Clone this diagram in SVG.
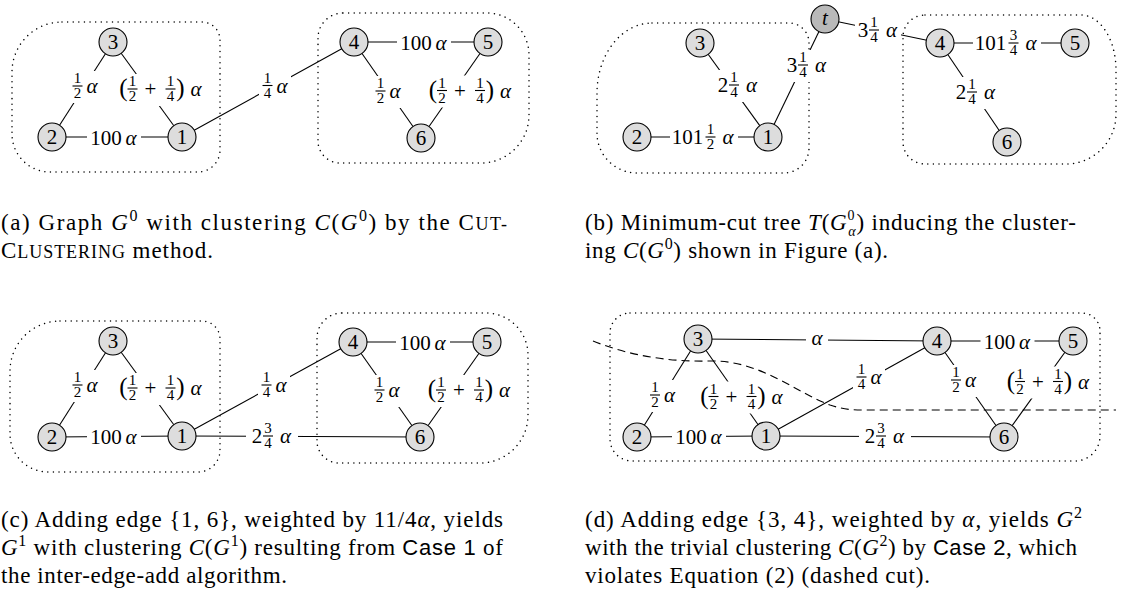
<svg xmlns="http://www.w3.org/2000/svg" width="1126" height="592" viewBox="0 0 1126 592">
<style>
text{font-family:"Liberation Serif","Times New Roman",serif;fill:#000}
.cl{fill:none;stroke:#000;stroke-width:1.5;stroke-dasharray:0.01 5.6;stroke-linecap:round}
.e line{stroke:#000;stroke-width:1.1;fill:none}
.cut{fill:none;stroke:#000;stroke-width:1.1;stroke-dasharray:8 5}
.n circle{fill:#dddddd;stroke:#000;stroke-width:1.1}
.n.t circle{fill:#b9b9b9}
.n text{font-size:21px;text-anchor:middle}
.bg{fill:#fff}
.m{font-size:21px;text-anchor:middle}
.a{font-style:italic}
.f{font-size:15px;text-anchor:middle}
.fb{stroke:#000;stroke-width:0.9}
.p{font-size:25px;text-anchor:middle}
.cap{font-size:23px}
.i{font-style:italic}
.sup{font-size:16px}
.ssub{font-size:14px}
.sc{font-size:18px}
.ss{font-family:"Liberation Sans",Arial,sans-serif;font-size:22px}
</style>

<!-- ===== Panel (a) ===== -->
<g id="panel-a">
  <g id="a-clusters">
    <path class="cl" d="M62,22 H202 A18,18 0 0 1 220,40 V150 A22,22 0 0 1 198,172 H50 A38,38 0 0 1 12,134 V72 A50,50 0 0 1 62,22 Z"/>
    <path class="cl" d="M343,13 H487 A42,42 0 0 1 529,55 V115 A48,48 0 0 1 481,163 H340 A22,22 0 0 1 318,141 V38 A25,25 0 0 1 343,13 Z"/>
  </g>
  <g id="a-connectors" class="e">
    <line x1="113" y1="42" x2="52" y2="137"/>
    <line x1="113" y1="42" x2="182" y2="137"/>
    <line x1="52" y1="137" x2="182" y2="137"/>
    <line x1="182" y1="137" x2="354" y2="42"/>
    <line x1="354" y1="42" x2="488" y2="42"/>
    <line x1="354" y1="42" x2="421" y2="138"/>
    <line x1="488" y1="42" x2="421" y2="138"/>
    <g transform="translate(85,86)"><rect class="bg" x="-16" y="-15" width="32" height="32"/><text class="f" x="-7.5" y="-3">1</text><line class="fb" x1="-12.5" y1="0" x2="-2.5" y2="0"/><text class="f" x="-7.5" y="12">2</text><text class="m a" x="7" y="7">α</text></g>
    <g transform="translate(162,89)"><rect class="bg" x="-44" y="-15" width="88" height="32"/><text class="p" x="-38.5" y="7">(</text><text class="f" x="-29.5" y="-3">1</text><line class="fb" x1="-34.5" y1="0" x2="-24.5" y2="0"/><text class="f" x="-29.5" y="12">2</text><text class="m" x="-11.5" y="7">+</text><text class="f" x="8.5" y="-3">1</text><line class="fb" x1="3.5" y1="0" x2="13.5" y2="0"/><text class="f" x="8.5" y="12">4</text><text class="p" x="18.5" y="7">)</text><text class="m a" x="34" y="7">α</text></g>
    <g transform="translate(114,137)"><rect class="bg" x="-27" y="-12" width="54" height="24"/><text class="m" x="-8" y="7.5">100</text><text class="m a" x="17" y="7.5">α</text></g>
    <g transform="translate(275,85.5)"><rect class="bg" x="-16" y="-15" width="32" height="32"/><text class="f" x="-7.5" y="-3">1</text><line class="fb" x1="-12.5" y1="0" x2="-2.5" y2="0"/><text class="f" x="-7.5" y="12">4</text><text class="m a" x="7" y="7">α</text></g>
    <g transform="translate(424,42)"><rect class="bg" x="-27" y="-12" width="54" height="24"/><text class="m" x="-8" y="7.5">100</text><text class="m a" x="17" y="7.5">α</text></g>
    <g transform="translate(388,91)"><rect class="bg" x="-16" y="-15" width="32" height="32"/><text class="f" x="-7.5" y="-3">1</text><line class="fb" x1="-12.5" y1="0" x2="-2.5" y2="0"/><text class="f" x="-7.5" y="12">2</text><text class="m a" x="7" y="7">α</text></g>
    <g transform="translate(471.5,90.5)"><rect class="bg" x="-44" y="-15" width="88" height="32"/><text class="p" x="-38.5" y="7">(</text><text class="f" x="-29.5" y="-3">1</text><line class="fb" x1="-34.5" y1="0" x2="-24.5" y2="0"/><text class="f" x="-29.5" y="12">2</text><text class="m" x="-11.5" y="7">+</text><text class="f" x="8.5" y="-3">1</text><line class="fb" x1="3.5" y1="0" x2="13.5" y2="0"/><text class="f" x="8.5" y="12">4</text><text class="p" x="18.5" y="7">)</text><text class="m a" x="34" y="7">α</text></g>
  </g>
  <g id="a-n1" class="n"><circle cx="182" cy="137" r="14"/><text x="182" y="144">1</text></g>
  <g id="a-n2" class="n"><circle cx="52" cy="137" r="14"/><text x="52" y="144">2</text></g>
  <g id="a-n3" class="n"><circle cx="113" cy="42" r="14"/><text x="113" y="49">3</text></g>
  <g id="a-n4" class="n"><circle cx="354" cy="42" r="14"/><text x="354" y="49">4</text></g>
  <g id="a-n5" class="n"><circle cx="488" cy="42" r="14"/><text x="488" y="49">5</text></g>
  <g id="a-n6" class="n"><circle cx="421" cy="138" r="14"/><text x="421" y="145">6</text></g>
</g>

<!-- ===== Panel (b) ===== -->
<g id="panel-b">
  <g id="b-clusters">
    <path class="cl" d="M652,23 H789 A20,20 0 0 1 809,43 V148 A25,25 0 0 1 784,173 H637 A40,40 0 0 1 597,133 V93 A55,70 0 0 1 652,23 Z"/>
    <path class="cl" d="M925,15 H1081 A35,55 0 0 1 1116,70 V114 A50,50 0 0 1 1066,164 H925 A22,22 0 0 1 903,142 V37 A22,22 0 0 1 925,15 Z"/>
  </g>
  <g id="b-connectors" class="e">
    <line x1="825" y1="19" x2="768" y2="137"/>
    <line x1="825" y1="19" x2="940" y2="43"/>
    <line x1="700" y1="43" x2="768" y2="137"/>
    <line x1="637" y1="137" x2="768" y2="137"/>
    <line x1="940" y1="43" x2="1075" y2="43"/>
    <line x1="940" y1="43" x2="1007" y2="142"/>
    <g transform="translate(738,85)"><rect class="bg" x="-23" y="-15" width="46" height="32"/><text class="m" x="-15" y="7">2</text><text class="f" x="-4" y="-3">1</text><line class="fb" x1="-9" y1="0" x2="1" y2="0"/><text class="f" x="-4" y="12">4</text><text class="m a" x="13.5" y="7">α</text></g>
    <g transform="translate(704,137)"><rect class="bg" x="-34" y="-15" width="68" height="32"/><text class="m" x="-16.5" y="7">101</text><text class="f" x="6.5" y="-3">1</text><line class="fb" x1="1.5" y1="0" x2="11.5" y2="0"/><text class="f" x="6.5" y="12">2</text><text class="m a" x="24" y="7">α</text></g>
    <g transform="translate(807,65)"><rect class="bg" x="-23" y="-15" width="46" height="32"/><text class="m" x="-15" y="7">3</text><text class="f" x="-4" y="-3">1</text><line class="fb" x1="-9" y1="0" x2="1" y2="0"/><text class="f" x="-4" y="12">4</text><text class="m a" x="13.5" y="7">α</text></g>
    <g transform="translate(878,30)"><rect class="bg" x="-23" y="-15" width="46" height="32"/><text class="m" x="-15" y="7">3</text><text class="f" x="-4" y="-3">1</text><line class="fb" x1="-9" y1="0" x2="1" y2="0"/><text class="f" x="-4" y="12">4</text><text class="m a" x="13.5" y="7">α</text></g>
    <g transform="translate(1007,43)"><rect class="bg" x="-34" y="-15" width="68" height="32"/><text class="m" x="-16.5" y="7">101</text><text class="f" x="6.5" y="-3">3</text><line class="fb" x1="1.5" y1="0" x2="11.5" y2="0"/><text class="f" x="6.5" y="12">4</text><text class="m a" x="24" y="7">α</text></g>
    <g transform="translate(976,92)"><rect class="bg" x="-23" y="-15" width="46" height="32"/><text class="m" x="-15" y="7">2</text><text class="f" x="-4" y="-3">1</text><line class="fb" x1="-9" y1="0" x2="1" y2="0"/><text class="f" x="-4" y="12">4</text><text class="m a" x="13.5" y="7">α</text></g>
  </g>
  <g id="b-nt" class="n t"><circle cx="825" cy="19" r="14"/><text class="i" x="825" y="25">t</text></g>
  <g id="b-n1" class="n"><circle cx="768" cy="137" r="14"/><text x="768" y="144">1</text></g>
  <g id="b-n2" class="n"><circle cx="637" cy="137" r="14"/><text x="637" y="144">2</text></g>
  <g id="b-n3" class="n"><circle cx="700" cy="43" r="14"/><text x="700" y="50">3</text></g>
  <g id="b-n4" class="n"><circle cx="940" cy="43" r="14"/><text x="940" y="50">4</text></g>
  <g id="b-n5" class="n"><circle cx="1075" cy="43" r="14"/><text x="1075" y="50">5</text></g>
  <g id="b-n6" class="n"><circle cx="1007" cy="142" r="14"/><text x="1007" y="149">6</text></g>
</g>

<!-- ===== Panel (c) ===== -->
<g id="panel-c" transform="translate(0,299)">
  <g id="c-clusters">
    <path class="cl" d="M60,22 H202 A18,18 0 0 1 220,40 V150 A22,22 0 0 1 198,173 H48 A38,38 0 0 1 10,135 V72 A50,50 0 0 1 60,22 Z"/>
    <path class="cl" d="M342,14 H486 A42,42 0 0 1 528,56 V116 A48,48 0 0 1 480,164 H339 A22,22 0 0 1 317,142 V39 A25,25 0 0 1 342,14 Z"/>
  </g>
  <g id="c-connectors" class="e">
    <line x1="113" y1="42" x2="52" y2="138"/>
    <line x1="113" y1="42" x2="182" y2="137"/>
    <line x1="52" y1="138" x2="182" y2="137"/>
    <line x1="182" y1="137" x2="353" y2="43"/>
    <line x1="182" y1="137" x2="420" y2="138"/>
    <line x1="353" y1="43" x2="487" y2="43"/>
    <line x1="353" y1="43" x2="420" y2="138"/>
    <line x1="487" y1="43" x2="420" y2="138"/>
    <g transform="translate(85,86)"><rect class="bg" x="-16" y="-15" width="32" height="32"/><text class="f" x="-7.5" y="-3">1</text><line class="fb" x1="-12.5" y1="0" x2="-2.5" y2="0"/><text class="f" x="-7.5" y="12">2</text><text class="m a" x="7" y="7">α</text></g>
    <g transform="translate(162,89)"><rect class="bg" x="-44" y="-15" width="88" height="32"/><text class="p" x="-38.5" y="7">(</text><text class="f" x="-29.5" y="-3">1</text><line class="fb" x1="-34.5" y1="0" x2="-24.5" y2="0"/><text class="f" x="-29.5" y="12">2</text><text class="m" x="-11.5" y="7">+</text><text class="f" x="8.5" y="-3">1</text><line class="fb" x1="3.5" y1="0" x2="13.5" y2="0"/><text class="f" x="8.5" y="12">4</text><text class="p" x="18.5" y="7">)</text><text class="m a" x="34" y="7">α</text></g>
    <g transform="translate(114,137)"><rect class="bg" x="-27" y="-12" width="54" height="24"/><text class="m" x="-8" y="7.5">100</text><text class="m a" x="17" y="7.5">α</text></g>
    <g transform="translate(274,86)"><rect class="bg" x="-16" y="-15" width="32" height="32"/><text class="f" x="-7.5" y="-3">1</text><line class="fb" x1="-12.5" y1="0" x2="-2.5" y2="0"/><text class="f" x="-7.5" y="12">4</text><text class="m a" x="7" y="7">α</text></g>
    <g transform="translate(272,137)"><rect class="bg" x="-26" y="-15" width="52" height="32"/><text class="m" x="-15" y="7">2</text><text class="f" x="-4" y="-3">3</text><line class="fb" x1="-9" y1="0" x2="1" y2="0"/><text class="f" x="-4" y="12">4</text><text class="m a" x="13.5" y="7">α</text></g>
    <g transform="translate(423,43)"><rect class="bg" x="-27" y="-12" width="54" height="24"/><text class="m" x="-8" y="7.5">100</text><text class="m a" x="17" y="7.5">α</text></g>
    <g transform="translate(387,91)"><rect class="bg" x="-16" y="-15" width="32" height="32"/><text class="f" x="-7.5" y="-3">1</text><line class="fb" x1="-12.5" y1="0" x2="-2.5" y2="0"/><text class="f" x="-7.5" y="12">2</text><text class="m a" x="7" y="7">α</text></g>
    <g transform="translate(470.5,91)"><rect class="bg" x="-44" y="-15" width="88" height="32"/><text class="p" x="-38.5" y="7">(</text><text class="f" x="-29.5" y="-3">1</text><line class="fb" x1="-34.5" y1="0" x2="-24.5" y2="0"/><text class="f" x="-29.5" y="12">2</text><text class="m" x="-11.5" y="7">+</text><text class="f" x="8.5" y="-3">1</text><line class="fb" x1="3.5" y1="0" x2="13.5" y2="0"/><text class="f" x="8.5" y="12">4</text><text class="p" x="18.5" y="7">)</text><text class="m a" x="34" y="7">α</text></g>
  </g>
  <g id="c-n1" class="n"><circle cx="182" cy="137" r="14"/><text x="182" y="144">1</text></g>
  <g id="c-n2" class="n"><circle cx="52" cy="138" r="14"/><text x="52" y="145">2</text></g>
  <g id="c-n3" class="n"><circle cx="113" cy="42" r="14"/><text x="113" y="49">3</text></g>
  <g id="c-n4" class="n"><circle cx="353" cy="43" r="14"/><text x="353" y="50">4</text></g>
  <g id="c-n5" class="n"><circle cx="487" cy="43" r="14"/><text x="487" y="50">5</text></g>
  <g id="c-n6" class="n"><circle cx="420" cy="138" r="14"/><text x="420" y="145">6</text></g>
</g>

<!-- ===== Panel (d) ===== -->
<g id="panel-d">
  <g id="d-clusters">
    <path class="cl" d="M630,313 H1082 A18,18 0 0 1 1100,331 V436 A25,25 0 0 1 1075,461 H632 A22,22 0 0 1 610,439 V333 A20,20 0 0 1 630,313 Z"/>
  </g>
  <g id="d-connectors" class="e">
    <line x1="698" y1="339" x2="937" y2="341"/>
    <line x1="698" y1="339" x2="637" y2="437"/>
    <line x1="698" y1="339" x2="766" y2="436"/>
    <line x1="637" y1="437" x2="766" y2="436"/>
    <line x1="766" y1="436" x2="937" y2="341"/>
    <line x1="766" y1="436" x2="1004" y2="437"/>
    <line x1="937" y1="341" x2="1073" y2="341"/>
    <line x1="937" y1="341" x2="1004" y2="437"/>
    <line x1="1073" y1="341" x2="1004" y2="437"/>
    <g transform="translate(817,340)"><rect class="bg" x="-11" y="-10" width="22" height="20"/><text class="m a" x="0" y="5">α</text></g>
    <g transform="translate(662.5,395)"><rect class="bg" x="-16" y="-15" width="32" height="32"/><text class="f" x="-7.5" y="-3">1</text><line class="fb" x1="-12.5" y1="0" x2="-2.5" y2="0"/><text class="f" x="-7.5" y="12">2</text><text class="m a" x="7" y="7">α</text></g>
    <g transform="translate(743,396.5)"><rect class="bg" x="-44" y="-15" width="88" height="32"/><text class="p" x="-38.5" y="7">(</text><text class="f" x="-29.5" y="-3">1</text><line class="fb" x1="-34.5" y1="0" x2="-24.5" y2="0"/><text class="f" x="-29.5" y="12">2</text><text class="m" x="-11.5" y="7">+</text><text class="f" x="8.5" y="-3">1</text><line class="fb" x1="3.5" y1="0" x2="13.5" y2="0"/><text class="f" x="8.5" y="12">4</text><text class="p" x="18.5" y="7">)</text><text class="m a" x="34" y="7">α</text></g>
    <g transform="translate(699,436)"><rect class="bg" x="-27" y="-12" width="54" height="24"/><text class="m" x="-8" y="7.5">100</text><text class="m a" x="17" y="7.5">α</text></g>
    <g transform="translate(869,377)"><rect class="bg" x="-16" y="-15" width="32" height="32"/><text class="f" x="-7.5" y="-3">1</text><line class="fb" x1="-12.5" y1="0" x2="-2.5" y2="0"/><text class="f" x="-7.5" y="12">4</text><text class="m a" x="7" y="7">α</text></g>
    <g transform="translate(885,436)"><rect class="bg" x="-26" y="-15" width="52" height="32"/><text class="m" x="-15" y="7">2</text><text class="f" x="-4" y="-3">3</text><line class="fb" x1="-9" y1="0" x2="1" y2="0"/><text class="f" x="-4" y="12">4</text><text class="m a" x="13.5" y="7">α</text></g>
    <g transform="translate(1007.5,341)"><rect class="bg" x="-27" y="-12" width="54" height="24"/><text class="m" x="-8" y="7.5">100</text><text class="m a" x="17" y="7.5">α</text></g>
    <g transform="translate(963.5,380)"><rect class="bg" x="-16" y="-15" width="32" height="32"/><text class="f" x="-7.5" y="-3">1</text><line class="fb" x1="-12.5" y1="0" x2="-2.5" y2="0"/><text class="f" x="-7.5" y="12">2</text><text class="m a" x="7" y="7">α</text></g>
    <g transform="translate(1049.5,381.5)"><rect class="bg" x="-44" y="-15" width="88" height="32"/><text class="p" x="-38.5" y="7">(</text><text class="f" x="-29.5" y="-3">1</text><line class="fb" x1="-34.5" y1="0" x2="-24.5" y2="0"/><text class="f" x="-29.5" y="12">2</text><text class="m" x="-11.5" y="7">+</text><text class="f" x="8.5" y="-3">1</text><line class="fb" x1="3.5" y1="0" x2="13.5" y2="0"/><text class="f" x="8.5" y="12">4</text><text class="p" x="18.5" y="7">)</text><text class="m a" x="34" y="7">α</text></g>
  </g>
  <g id="d-cut">
    <path class="cut" d="M593,341 C630,356 670,362 710,361 C760,360 795,392 830,405 C842,409 850,410 862,410 L1116,410"/>
  </g>
  <g id="d-n1" class="n"><circle cx="766" cy="436" r="14"/><text x="766" y="443">1</text></g>
  <g id="d-n2" class="n"><circle cx="637" cy="437" r="14"/><text x="637" y="444">2</text></g>
  <g id="d-n3" class="n"><circle cx="698" cy="339" r="14"/><text x="698" y="346">3</text></g>
  <g id="d-n4" class="n"><circle cx="937" cy="341" r="14"/><text x="937" y="348">4</text></g>
  <g id="d-n5" class="n"><circle cx="1073" cy="341" r="14"/><text x="1073" y="348">5</text></g>
  <g id="d-n6" class="n"><circle cx="1004" cy="437" r="14"/><text x="1004" y="444">6</text></g>
</g>

<!-- ===== Captions ===== -->
<g id="captions">
  <text class="cap" x="1" y="230" textLength="506" lengthAdjust="spacing">(a) Graph <tspan class="i">G</tspan><tspan class="sup" dy="-9">0</tspan><tspan dy="9"> with clustering </tspan><tspan class="i">C</tspan>(<tspan class="i">G</tspan><tspan class="sup" dy="-9">0</tspan><tspan dy="9">) by the C</tspan><tspan class="sc">UT-</tspan></text>
  <text class="cap" x="1" y="258" textLength="212" lengthAdjust="spacing">C<tspan class="sc">LUSTERING</tspan> method.</text>

  <text class="cap" x="585" y="230" textLength="491" lengthAdjust="spacing">(b) Minimum-cut tree <tspan class="i">T</tspan>(<tspan class="i">G</tspan><tspan class="ssub" dy="-10">0</tspan><tspan class="ssub i" dx="-7" dy="16">α</tspan><tspan dy="-6">) inducing the cluster-</tspan></text>
  <text class="cap" x="585" y="258" textLength="303" lengthAdjust="spacing">ing <tspan class="i">C</tspan>(<tspan class="i">G</tspan><tspan class="sup" dy="-9">0</tspan><tspan dy="9">) shown in Figure (a).</tspan></text>

  <text class="cap" x="1" y="527" textLength="502" lengthAdjust="spacing">(c) Adding edge {1, 6}, weighted by 11/4<tspan class="i">α</tspan>, yields</text>
  <text class="cap" x="1" y="555" textLength="502" lengthAdjust="spacing"><tspan class="i">G</tspan><tspan class="sup" dy="-9">1</tspan><tspan dy="9"> with clustering </tspan><tspan class="i">C</tspan>(<tspan class="i">G</tspan><tspan class="sup" dy="-9">1</tspan><tspan dy="9">) resulting from </tspan><tspan class="ss">Case 1</tspan> of</text>
  <text class="cap" x="1" y="583" textLength="286" lengthAdjust="spacing">the inter-edge-add algorithm.</text>

  <text class="cap" x="585" y="527" textLength="497" lengthAdjust="spacing">(d) Adding edge {3, 4}, weighted by <tspan class="i">α</tspan>, yields <tspan class="i">G</tspan><tspan class="sup" dy="-9">2</tspan></text>
  <text class="cap" x="585" y="555" textLength="492" lengthAdjust="spacing">with the trivial clustering <tspan class="i">C</tspan>(<tspan class="i">G</tspan><tspan class="sup" dy="-9">2</tspan><tspan dy="9">) by </tspan><tspan class="ss">Case 2</tspan>, which</text>
  <text class="cap" x="585" y="583" textLength="345" lengthAdjust="spacing">violates Equation (2) (dashed cut).</text>
</g>
</svg>
